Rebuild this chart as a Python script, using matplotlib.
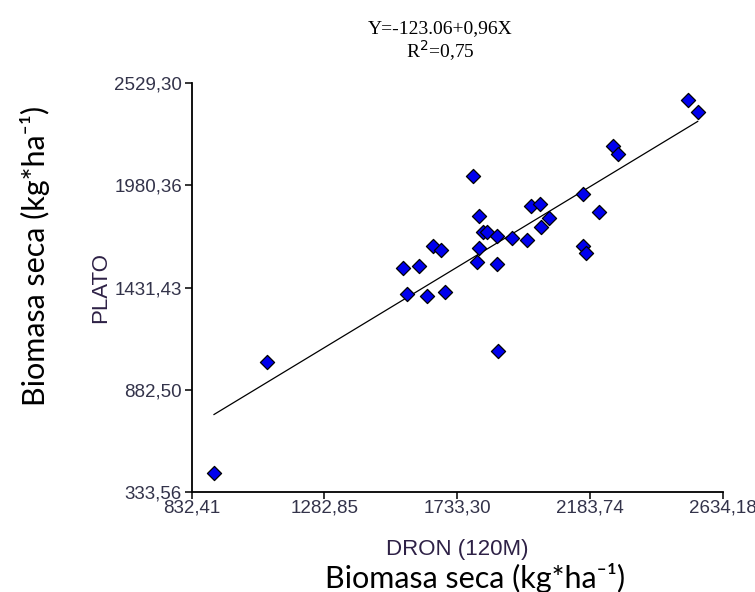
import matplotlib
matplotlib.use("Agg")
import matplotlib.pyplot as plt
import numpy as np

# Data (DRON 120M vs PLATO dry biomass, kg/ha)
dron = [908.1, 1086.9, 1548.4, 1604.7, 1562.0, 1629.8, 1650.2, 1678.4, 1691.9,
        1787.9, 1807.3, 1807.3, 1799.5, 1821.9, 1835.4, 1867.4, 1867.4, 1870.7,
        1918.3, 1971.2, 1985.4, 2013.3, 2018.7, 2045.8, 2161.2, 2159.2, 2169.4,
        2214.5, 2263.0, 2277.9, 2515.4, 2549.4]
plato = [435.7, 1029.3, 1534.7, 1547.0, 1396.5, 1385.7, 1654.5, 1633.0, 1405.6,
         2030.9, 1815.8, 1642.2, 1566.9, 1731.4, 1731.4, 1708.3, 1556.2, 1091.6,
         1695.9, 1686.8, 1869.6, 1882.0, 1758.3, 1803.5, 1932.5, 1656.2, 1618.5,
         1835.8, 2193.8, 2147.5, 2439.5, 2373.4]
intercept = -123.06
slope = 0.96
xticks = [832.41, 1282.85, 1733.30, 2183.74, 2634.18]
xtick_labels = ["832,41", "1282,85", "1733,30", "2183,74", "2634,18"]
yticks = [333.56, 882.50, 1431.43, 1980.36, 2529.30]
ytick_labels = ["333,56", "882,50", "1431,43", "1980,36", "2529,30"]

fig = plt.figure(figsize=(7.55, 5.92), dpi=100)
ax = fig.add_axes([0.2539, 0.1694, 0.9572 - 0.2539, 0.8593 - 0.1694])

x = np.array(dron)
xl = np.array([x.min(), x.max()])
ax.plot(xl, intercept + slope * xl, color="black", lw=0.9, zorder=2)
ax.scatter(dron, plato, marker="D", s=52, facecolor="#0000ee", edgecolor="black",
           linewidth=0.9, zorder=3)

ax.set_xlim(xticks[0], xticks[-1])
ax.set_ylim(yticks[0], yticks[-1])
ax.set_xticks(xticks)
ax.set_xticklabels(xtick_labels)
ax.set_yticks(yticks)
ax.set_yticklabels(ytick_labels)
for s in ["top", "right"]:
    ax.spines[s].set_visible(False)
for s in ["left", "bottom"]:
    ax.spines[s].set_linewidth(1.3)
ax.tick_params(direction="out", length=5, width=1.1, colors="black",
               labelcolor="#33334a", labelsize=13.5)
ax.tick_params(axis="x", pad=0.5)
ax.tick_params(axis="y", pad=2)
for lab in ax.get_xticklabels() + ax.get_yticklabels():
    lab.set_family("Liberation Sans")

ax.set_xlabel("DRON (120M)", family="Liberation Sans", fontsize=16,
              color="#2e2146", labelpad=16)
ax.set_ylabel("PLATO", family="Liberation Sans", fontsize=16,
              color="#2e2146", labelpad=2)

fig.text(0.583, 0.952, "Y=-123.06+0,96X", family="Liberation Serif",
         fontsize=14, ha="center", va="center")
fig.text(0.583, 0.915, "R$^2$=0,75", family="Liberation Serif",
         fontsize=14, ha="center", va="center")

fig.text(0.629, 0.024, "Biomasa seca (kg*ha\u207b\u00b9)",
         family=["Lato", "DejaVu Sans"], fontsize=22, ha="center", va="center")
fig.text(0.046, 0.568, "Biomasa seca (kg*ha\u207b\u00b9)",
         family=["Lato", "DejaVu Sans"], fontsize=22, ha="center", va="center",
         rotation=90)

fig.savefig("out.png", dpi=100)
